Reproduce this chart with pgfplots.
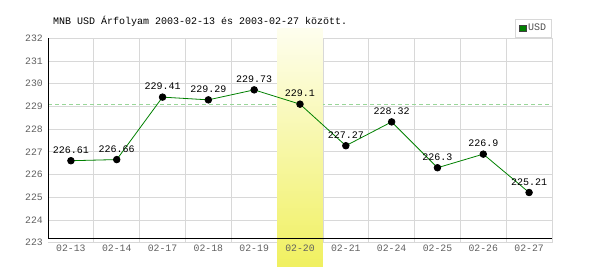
\documentclass[border=0pt]{standalone}
\usepackage{fontspec}
\setmainfont{Liberation Mono}
\usepackage{pgfplots}
\pgfplotsset{compat=1.18}
\definecolor{gridgray}{HTML}{D8D8D8}
\definecolor{linegreen}{HTML}{008000}
\definecolor{dashgreen}{HTML}{99D699}
\definecolor{bandtop}{HTML}{FEFEEE}
\definecolor{bandbot}{HTML}{F0F060}
\definecolor{ticktext}{HTML}{606060}
\definecolor{legtext}{HTML}{505050}
\pgfdeclarelayer{dash}
\pgfdeclarelayer{band}
\pgfplotsset{
  layers/mylayers/.define layer set={
    axis background,axis grid,dash,band,axis ticks,axis lines,axis tick labels,pre main,main,axis descriptions,axis foreground
  }{
    grid style={/pgfplots/on layer=axis grid},
    tick style={/pgfplots/on layer=axis ticks},
    axis line style={/pgfplots/on layer=axis lines},
    label style={/pgfplots/on layer=axis descriptions},
    legend style={/pgfplots/on layer=axis descriptions},
    title style={/pgfplots/on layer=axis descriptions},
    colorbar style={/pgfplots/on layer=axis descriptions},
    ticklabel style={/pgfplots/on layer=axis tick labels},
    axis background@ style={/pgfplots/on layer=axis background},
    3d box foreground style={/pgfplots/on layer=axis foreground},
  },
}
\pgfplotstableread{
x y label
0 226.61 226.61
1 226.66 226.66
2 229.41 229.41
3 229.29 229.29
4 229.73 229.73
5 229.1 229.1
6 227.27 227.27
7 228.32 228.32
8 226.3 226.3
9 226.9 226.9
10 225.21 225.21
}\usd
\begin{document}
\begin{tikzpicture}
\path (0,0) rectangle (600pt,270pt);
\node[anchor=west, font=\fontsize{10}{12}\selectfont, inner sep=0pt] at (53pt,248.3pt) {MNB USD Árfolyam 2003-02-13 és 2003-02-27 között.};
\begin{axis}[
  set layers=mylayers,
  at={(48pt,27.3pt)}, anchor=south west,
  scale only axis, width=504pt, height=204.4pt,
  xmin=-0.5, xmax=10.5, ymin=223, ymax=232,
  clip=false,
  axis line style={draw=none},
  xtick={0,...,10},
  xticklabels={02-13,02-14,02-17,02-18,02-19,02-20,02-21,02-24,02-25,02-26,02-27},
  minor xtick={0.5,1.5,...,10.5},
  ytick={223,...,232},
  ymajorgrids, xminorgrids,
  grid style={gridgray, line width=0.8pt},
  minor grid style={gridgray, line width=0.8pt},
  major tick length=0pt, minor tick length=0pt,
  tick label style={font=\fontsize{9.8}{11}\selectfont, text=ticktext},
  /pgf/number format/assume math mode=true,
  yticklabel style={anchor=east, inner sep=0pt, xshift=-5pt},
  xticklabel style={anchor=center, inner sep=0pt, yshift=-5.3pt},
  legend style={at={(1,1)}, anchor=south east, yshift=0.7pt, draw=gridgray, line width=0.8pt, fill=white,
    font=\fontsize{10}{11}\selectfont, text=legtext, inner xsep=3.5pt, inner ysep=3pt},
  legend cell align=left,
]
\addplot[on layer=dash, dashgreen, dash pattern=on 4pt off 3pt, line width=0.9pt, forget plot]
  coordinates {(-0.5,229.1) (10.5,229.1)};
\addplot[on layer=band, draw=none, top color=bandtop, bottom color=bandbot, forget plot]
  coordinates {(4.5,221.94) (5.5,221.94) (5.5,232.41) (4.5,232.41)} -- cycle;
\draw[black, line width=1pt] (axis cs:-0.5,232) -- (axis cs:-0.5,223.2) -- (axis cs:10.5,223.2);
\addplot[draw=none, no marks, forget plot, nodes near coords, point meta=explicit symbolic,
  nodes near coords style={anchor=center, yshift=10.5pt, font=\fontsize{10}{11}\selectfont, text=black, inner sep=0pt}]
  table[x=x, y=y, meta=label] {\usd};
\addplot[linegreen, line width=0.8pt, mark=*, mark size=3.3pt, mark options={fill=black, draw=black}, forget plot]
  table[x=x, y=y] {\usd};
\addlegendimage{legend image code/.code={\draw[fill=linegreen, draw=darkgray, line width=0.6pt] (0pt,-3.3pt) rectangle (6.6pt,3.3pt);}}
\addlegendentry{USD}
\end{axis}
\end{tikzpicture}
\end{document}
